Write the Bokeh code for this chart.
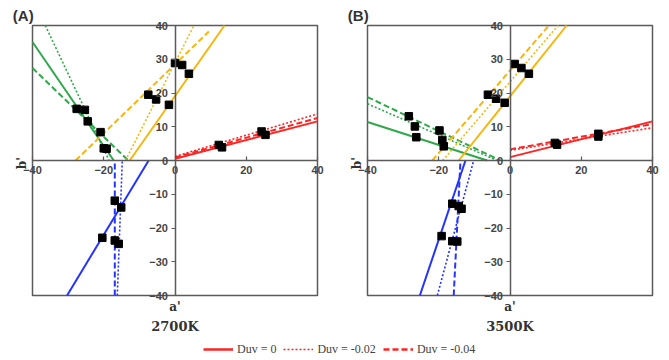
import math
from bokeh.plotting import figure
from bokeh.layouts import row, column
from bokeh.models import (Range1d, LinearAxis, FixedTicker, Label, Legend,
                          LegendItem)
from bokeh.embed import file_html
from bokeh.resources import INLINE

# ---------------- data ----------------
DUV_LABELS = ["Duv = 0", "Duv = -0.02", "Duv = -0.04"]
X_TICKS = [-40, -20, 0, 20, 40]
Y_TICKS = [-40, -30, -20, -10, 0, 10, 20, 30, 40]

# Panel A (2700K) measured points
A_GREEN_PA = [-27.6, -25.3, -24.5, -20.9, -20.0, -19.2]
A_GREEN_PB = [15.3, 15.0, 11.6, 8.4, 3.6, 3.5]
A_YELLOW_PA = [-7.5, -5.3, -1.7, 0.0, 2.0, 3.9]
A_YELLOW_PB = [19.5, 18.1, 16.5, 28.9, 28.3, 25.7]
A_RED_PA = [12.3, 13.2, 24.3, 25.4]
A_RED_PB = [4.6, 3.9, 8.6, 7.6]
A_BLUE_PA = [-16.9, -15.1, -20.4, -16.9, -15.8]
A_BLUE_PB = [-11.9, -13.9, -22.9, -23.7, -24.7]

# Panel A fitted lines: (start, end) of a' and b' for Duv = 0, -0.02, -0.04
A_GREEN_LA = [(-40.0, -17.2), (-36.4, -18.5), (-40.0, -13.1)]
A_GREEN_LB = [(35.1, 0.0), (40.0, 0.0), (27.4, 0.0)]
A_YELLOW_LA = [(-12.7, 13.9), (-13.9, 5.3), (-27.9, 9.5)]
A_YELLOW_LB = [(0.0, 40.0), (0.0, 40.0), (0.0, 38.2)]
A_RED_LA = [(0.0, 40.0), (0.0, 40.0), (0.0, 40.0)]
A_RED_LB = [(0.5, 11.6), (1.2, 13.8), (0.9, 12.6)]
A_BLUE_LA = [(-30.3, -7.4), (-16.2, -14.8), (-16.9, -16.9)]
A_BLUE_LB = [(-40.0, 0.0), (-40.0, 0.0), (-40.0, 0.0)]

# Panel B (3500K) measured points
B_GREEN_PA = [-28.4, -26.7, -26.3, -19.8, -19.0, -18.6]
B_GREEN_PB = [13.1, 10.1, 6.9, 8.9, 6.1, 4.2]
B_YELLOW_PA = [-6.2, -3.9, -1.5, 1.3, 3.2, 5.3]
B_YELLOW_PB = [19.5, 18.3, 17.1, 28.6, 27.4, 25.7]
B_RED_PA = [12.6, 13.2, 24.8, 24.8]
B_RED_PB = [5.2, 4.7, 7.9, 7.1]
B_BLUE_PA = [-16.2, -14.4, -13.6, -19.2, -16.2, -14.8]
B_BLUE_PB = [-12.8, -13.5, -14.3, -22.4, -23.9, -24.0]

# Panel B fitted lines
B_GREEN_LA = [(-40.0, -6.4), (-40.0, -3.6), (-40.0, -2.7)]
B_GREEN_LB = [(11.4, 0.0), (16.8, 0.0), (18.8, 0.0)]
B_YELLOW_LA = [(-14.4, 15.9), (-18.9, 13.5), (-21.8, 10.9)]
B_YELLOW_LB = [(0.0, 40.0), (0.0, 40.0), (0.0, 40.0)]
B_RED_LA = [(0.0, 40.0), (0.0, 40.0), (0.0, 40.0)]
B_RED_LB = [(1.0, 11.6), (3.0, 9.7), (3.3, 10.8)]
B_BLUE_LA = [(-25.3, -12.5), (-20.4, -10.2), (-15.8, -13.9)]
B_BLUE_LB = [(-40.0, 0.0), (-40.0, 0.0), (-40.0, 0.0)]

# ---------------- styles / layout ----------------
GREEN = "#2ea84a"
YELLOW = "#f6b60c"
RED = "#ff2424"
BLUE = "#2433ff"
AXIS_COL = "#5a5a5a"
DASHES = ["solid", "2 2", "6 3"]
WIDTHS = [2, 1.6, 2]

PANEL_H = 335
FRAME_W = 285.0   # pixels spanned by -40..40 horizontally
FRAME_H = 270.0   # pixels spanned by -40..40 vertically
PAD_L, PAD_T, PAD_B = 32.0, 25.0, 40.0


def make_panel(tag, temp, width, pad_r, groups):
    lo, hi = X_TICKS[0], X_TICKS[-1]
    ylo, yhi = Y_TICKS[0], Y_TICKS[-1]
    sx = FRAME_W / (hi - lo)
    sy = FRAME_H / (yhi - ylo)
    xr = Range1d(lo - PAD_L / sx, hi + pad_r / sx)
    yr = Range1d(ylo - PAD_B / sy, yhi + PAD_T / sy)
    p = figure(width=width, height=PANEL_H, x_range=xr, y_range=yr,
               output_backend="svg", toolbar_location=None,
               x_axis_location=None, y_axis_location=None, min_border=0)
    p.grid.visible = False
    p.outline_line_color = None
    p.background_fill_color = "white"
    p.border_fill_color = "white"

    # plot box
    p.quad(left=[lo], right=[hi], bottom=[ylo], top=[yhi], fill_color=None,
           line_color=AXIS_COL, line_width=1.5)

    for color, la, lb, pa, pb in groups:
        for i in range(3):
            p.line(x=list(la[i]), y=list(lb[i]), line_color=color,
                   line_width=WIDTHS[i], line_dash=DASHES[i])
    for color, la, lb, pa, pb in groups:
        p.scatter(x=pa, y=pb, marker="square", size=7.5,
                  fill_color="black", line_color="black")

    xa = LinearAxis(fixed_location=0, ticker=FixedTicker(ticks=X_TICKS),
                    bounds=(lo, hi))
    ya = LinearAxis(fixed_location=0, ticker=FixedTicker(ticks=Y_TICKS),
                    bounds=(ylo, yhi))
    for ax in (xa, ya):
        ax.axis_line_color = AXIS_COL
        ax.axis_line_width = 1.5
        ax.major_tick_line_color = AXIS_COL
        ax.major_tick_line_width = 1.2
        ax.minor_tick_line_color = None
        ax.major_label_text_font = "Liberation Sans"
        ax.major_label_text_font_style = "bold"
        ax.major_label_text_font_size = "11px"
        ax.major_label_text_color = "#444444"
    xa.major_tick_in = 4
    xa.major_tick_out = 0
    xa.major_label_standoff = 5
    ya.major_tick_in = 0
    ya.major_tick_out = 4
    ya.major_label_standoff = 3
    p.add_layout(xa, "below")
    p.add_layout(ya, "left")

    p.add_layout(Label(x=0, y=-43.4, text="a'", text_align="center",
                       text_baseline="middle", text_font="DejaVu Serif",
                       text_font_style="bold", text_font_size="12px",
                       text_color="#333333"))
    p.add_layout(Label(x=0, y=-49.3, text=temp, text_align="center",
                       text_baseline="middle", text_font="DejaVu Serif",
                       text_font_style="bold", text_font_size="13px",
                       text_color="#333333"))
    p.add_layout(Label(x=-42.9, y=-0.8, text="b'", angle=math.pi / 2,
                       text_align="center", text_baseline="middle",
                       text_font="DejaVu Serif", text_font_style="bold",
                       text_font_size="12px", text_color="#333333"))
    p.add_layout(Label(x=-42.6, y=43.0, text=tag, text_align="center",
                       text_baseline="middle", text_font="Liberation Sans",
                       text_font_style="bold", text_font_size="15px",
                       text_color="#333333"))
    return p


pA = make_panel("(A)", "2700K", 335, 18.0, [
    (GREEN, A_GREEN_LA, A_GREEN_LB, A_GREEN_PA, A_GREEN_PB),
    (YELLOW, A_YELLOW_LA, A_YELLOW_LB, A_YELLOW_PA, A_YELLOW_PB),
    (RED, A_RED_LA, A_RED_LB, A_RED_PA, A_RED_PB),
    (BLUE, A_BLUE_LA, A_BLUE_LB, A_BLUE_PA, A_BLUE_PB),
])
pB = make_panel("(B)", "3500K", 334, 17.0, [
    (GREEN, B_GREEN_LA, B_GREEN_LB, B_GREEN_PA, B_GREEN_PB),
    (YELLOW, B_YELLOW_LA, B_YELLOW_LB, B_YELLOW_PA, B_YELLOW_PB),
    (RED, B_RED_LA, B_RED_LB, B_RED_PA, B_RED_PB),
    (BLUE, B_BLUE_LA, B_BLUE_LB, B_BLUE_PA, B_BLUE_PB),
])

# legend strip (renderers hold points outside the visible range)
pL = figure(width=669, height=25, x_range=Range1d(0, 1), y_range=Range1d(0, 1),
            output_backend="svg", toolbar_location=None,
            x_axis_location=None, y_axis_location=None, min_border=0)
pL.grid.visible = False
pL.outline_line_color = None
items = []
for i, lab in enumerate(DUV_LABELS):
    r = pL.line(x=[5, 6], y=[5, 6], line_color=RED,
                line_width=2.5 if i != 1 else 1.6, line_dash=DASHES[i])
    items.append(LegendItem(label=lab, renderers=[r]))
leg = Legend(items=items, orientation="horizontal", location=(203, 1),
             glyph_width=30, label_standoff=4, spacing=7, padding=0,
             margin=0, border_line_color=None, background_fill_alpha=0,
             label_text_font="Liberation Serif", label_text_font_size="12px",
             label_text_color="#444444")
pL.add_layout(leg, "center")

layout = column(row(pA, pB), pL)
open("out.html", "w").write(file_html(layout, INLINE))
